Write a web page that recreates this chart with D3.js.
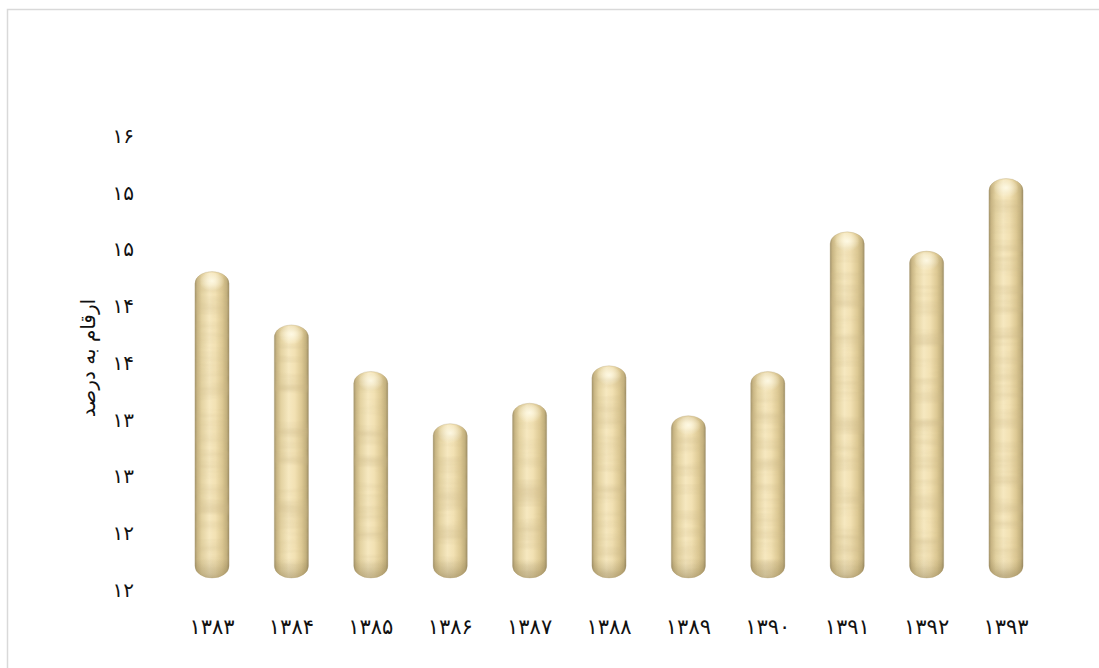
<!DOCTYPE html>
<html>
<head>
<meta charset="utf-8">
<script src="https://cdn.jsdelivr.net/npm/d3@7"></script>
<style>
  html, body { margin: 0; padding: 0; background: #fff; }
  svg { display: block; }
</style>
</head>
<body>
<svg id="chart" width="1099" height="668"></svg>
<script>
// Years (Solar Hijri) and their percentages
const years = ["۱۳۸۳", "۱۳۸۴", "۱۳۸۵", "۱۳۸۶", "۱۳۸۷", "۱۳۸۸", "۱۳۸۹", "۱۳۹۰", "۱۳۹۱", "۱۳۹۲", "۱۳۹۳"];
const values = [14.70, 14.23, 13.82, 13.36, 13.54, 13.87, 13.43, 13.82, 15.05, 14.88, 15.52];

// Value-axis ticks and their printed labels (whole-number format)
const tickValues = [12, 12.5, 13, 13.5, 14, 14.5, 15, 15.5, 16];
const tickLabels = ["۱۲", "۱۲", "۱۳", "۱۳", "۱۴", "۱۴", "۱۵", "۱۵", "۱۶"];
const yTitle = "ارقام به درصد";

const svg = d3.select("#chart");
const font = "'DejaVu Sans', sans-serif";

// Chart area frame
svg.append("rect")
  .attr("x", 7.5).attr("y", 9.5)
  .attr("width", 1100).attr("height", 680)
  .attr("fill", "#fff")
  .attr("stroke", "#d9d9d9").attr("stroke-width", 1.5);

const y = d3.scaleLinear().domain([12, 16]).range([590, 136]);
const x = d3.scaleBand().domain(years).range([172.3, 1045.7]).paddingInner(0.57).paddingOuter(0.285);

// ---- defs: cylinder shading, cap highlight, grain texture ----
const defs = svg.append("defs");

const cyl = defs.append("linearGradient").attr("id", "cyl")
  .attr("x1", "0").attr("x2", "1").attr("y1", "0").attr("y2", "0");
[[0, "#a3946c"], [0.07, "#c9b684"], [0.2, "#e4d3a2"], [0.42, "#f6e8c0"],
 [0.6, "#f2e1b3"], [0.8, "#ddc994"], [0.93, "#c3b07d"], [1, "#9c8d66"]]
  .forEach(([o, c]) => cyl.append("stop").attr("offset", o).attr("stop-color", c));

const capHi = defs.append("radialGradient").attr("id", "capHi")
  .attr("cx", "0.5").attr("cy", "0.4").attr("r", "0.5");
capHi.append("stop").attr("offset", 0).attr("stop-color", "#fffbe8").attr("stop-opacity", 0.9);
capHi.append("stop").attr("offset", 1).attr("stop-color", "#fffbe8").attr("stop-opacity", 0);

const baseShade = defs.append("linearGradient").attr("id", "baseShade")
  .attr("x1", "0").attr("x2", "0").attr("y1", "0").attr("y2", "1");
baseShade.append("stop").attr("offset", 0).attr("stop-color", "#6e5d35").attr("stop-opacity", 0);
baseShade.append("stop").attr("offset", 1).attr("stop-color", "#6e5d35").attr("stop-opacity", 0.35);

// horizontal wood-like streaks
const grain = defs.append("filter").attr("id", "grain")
  .attr("x", "0").attr("y", "0").attr("width", "1").attr("height", "1");
grain.append("feTurbulence").attr("type", "fractalNoise")
  .attr("baseFrequency", "0.005 0.07").attr("numOctaves", 3).attr("seed", 7).attr("result", "n");
grain.append("feColorMatrix").attr("in", "n").attr("type", "matrix")
  .attr("values", "0 0 0 0 0.58  0 0 0 0 0.46  0 0 0 0 0.24  1.7 0 0 0 -0.68");

const rx = x.bandwidth() / 2;
const ry = 12;
const shift = 12; // depth offset of the 3D floor

function capsule(x0, top, bottom) {
  const w = rx * 2;
  return `M${x0},${top + ry}` +
    `A${rx},${ry} 0 0 1 ${x0 + w},${top + ry}` +
    `L${x0 + w},${bottom - ry}` +
    `A${rx},${ry} 0 0 1 ${x0},${bottom - ry}Z`;
}

const bars = svg.append("g").selectAll("g").data(years.map((yr, i) => ({ yr, v: values[i], i })))
  .join("g");

bars.each(function (d) {
  const g = d3.select(this);
  const x0 = x(d.yr);
  const top = y(d.v) - shift;
  const bottom = y(12) - shift;
  const p = capsule(x0, top, bottom);
  const cid = "clip" + d.i;
  defs.append("clipPath").attr("id", cid).append("path").attr("d", p);

  g.append("path").attr("d", p).attr("fill", "url(#cyl)");
  g.append("rect").attr("clip-path", `url(#${cid})`)
    .attr("x", x0 - 2).attr("y", top).attr("width", rx * 2 + 4).attr("height", bottom - top)
    .attr("fill", "#000").attr("filter", "url(#grain)").attr("opacity", 0.5);
  g.append("ellipse").attr("cx", x0 + rx).attr("cy", top + ry * 0.95)
    .attr("rx", rx * 0.75).attr("ry", ry * 0.85).attr("fill", "url(#capHi)");
  g.append("rect").attr("clip-path", `url(#${cid})`)
    .attr("x", x0).attr("y", bottom - ry * 1.6).attr("width", rx * 2).attr("height", ry * 1.6)
    .attr("fill", "url(#baseShade)");
  g.append("path").attr("d", p).attr("fill", "none")
    .attr("stroke", "#a8976a").attr("stroke-opacity", 0.35).attr("stroke-width", 0.8);
});

// Value axis (labels only)
const yAxis = svg.append("g").attr("transform", "translate(134,0)")
  .call(d3.axisLeft(y).tickValues(tickValues).tickSize(0).tickPadding(0)
    .tickFormat((d, i) => tickLabels[i]));
yAxis.select(".domain").remove();
yAxis.selectAll("text").attr("font-family", font).attr("font-size", 20).attr("fill", "#111");

// Category axis (labels only)
const xAxis = svg.append("g").attr("transform", "translate(0,619)")
  .call(d3.axisBottom(x).tickSize(0).tickPadding(0));
xAxis.select(".domain").remove();
xAxis.selectAll("text").attr("font-family", font).attr("font-size", 21).attr("fill", "#111");

// Axis title
svg.append("text")
  .attr("transform", "translate(88,358) rotate(-90)")
  .attr("text-anchor", "middle").attr("dominant-baseline", "central")
  .attr("font-family", font).attr("font-size", 20).attr("fill", "#111")
  .text(yTitle);
</script>
</body>
</html>
